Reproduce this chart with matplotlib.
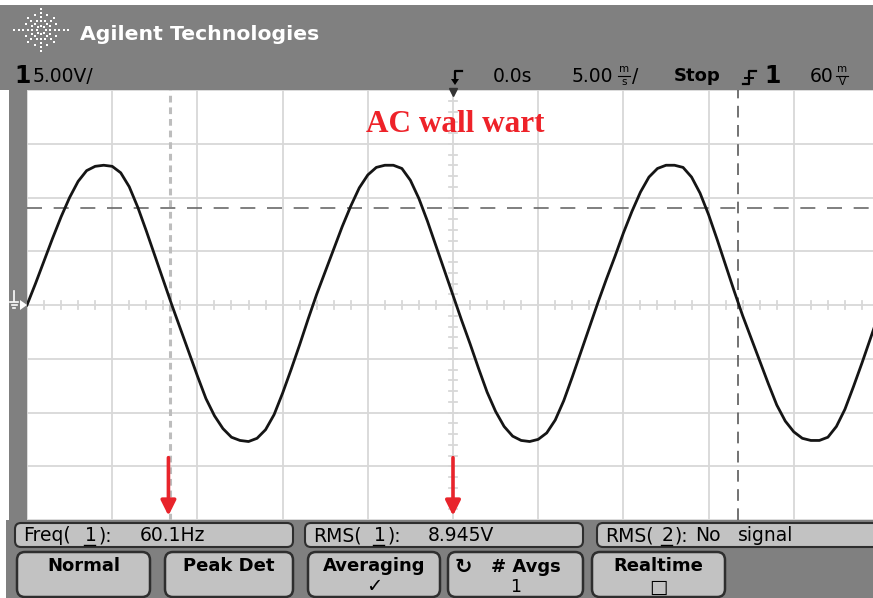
import numpy as np
import matplotlib
matplotlib.use("Agg")
import matplotlib.pyplot as plt
from matplotlib.patches import FancyBboxPatch, Rectangle, Polygon

# ---------------- data ----------------
# channel 1 trace, volts, sampled every 0.5 ms across the 50 ms screen
volts = [0.0, 2.0, 4.1, 6.2, 8.2, 10.0, 11.5, 12.5, 12.9, 13.0,
         12.9, 12.3, 11.0, 9.1, 6.9, 4.6, 2.3, 0.0, -2.2, -4.4,
         -6.6, -8.7, -10.3, -11.5, -12.3, -12.6, -12.7, -12.4, -11.6, -10.2,
         -8.2, -6.0, -3.7, -1.3, 1.0, 3.1, 5.2, 7.3, 9.2, 10.9,
         12.1, 12.8, 13.0, 13.0, 12.7, 11.6, 9.9, 7.8, 5.5, 3.2,
         0.9, -1.4, -3.6, -5.9, -8.1, -9.9, -11.3, -12.2, -12.6, -12.7,
         -12.5, -11.9, -10.7, -8.9, -6.7, -4.4, -2.1, 0.2, 2.4, 4.5,
         6.7, 8.7, 10.5, 11.9, 12.7, 13.0, 13.0, 12.8, 11.9, 10.4,
         8.4, 6.1, 3.7, 1.3, -1.0, -3.1, -5.2, -7.3, -9.3, -10.8,
         -11.8, -12.4, -12.6, -12.6, -12.3, -11.3, -9.7, -7.6, -5.4, -3.1,
         -0.8]
t_start, t_end = -25.0, 25.0          # ms, 5 ms/div, 10 div
v_min, v_max = -20.0, 20.0            # V, 5 V/div, 8 div
time_ms = np.linspace(t_start, t_end, len(volts))

x_grid = [-25, -20, -15, -10, -5, 0, 5, 10, 15, 20, 25]
y_grid = [-20, -15, -10, -5, 0, 5, 10, 15, 20]

cursor_v = 9.0        # horizontal dashed cursor (V)
cursor_t = 16.7       # vertical dashed cursor (ms)
marker_t = -16.6      # grey dotted marker (ms)
arrow_ts = [-16.7, 0.0]

title = "AC wall wart"
header = "Agilent Technologies"
meas_labels = [("Freq(", "1", "):", "60.1Hz"),
               ("RMS(", "1", "):", "8.945V"),
               ("RMS(", "2", "):", "No", "signal")]
softkeys = ["Normal", "Peak Det", "Averaging", "# Avgs", "Realtime"]
softkey_sub = ["", "", "\u2713", "1", "\u25a1"]

# ---------------- figure ----------------
W, H = 873, 598
fig = plt.figure(figsize=(W / 100, H / 100), dpi=100)
fig.patch.set_facecolor("white")

GRAY = "#808080"
BOX = "#c2c2c2"
EDGE = "#2e2e2e"

bg = fig.add_axes([0, 0, 1, 1], zorder=0)
bg.set_xlim(0, W)
bg.set_ylim(H, 0)
bg.axis("off")

# header / frames
bg.add_patch(Rectangle((0, 5), W, 85, color=GRAY, lw=0))
bg.add_patch(Rectangle((9, 90), 18, 430, color=GRAY, lw=0))
bg.add_patch(Rectangle((6, 520), W, 78, color=GRAY, lw=0))

# logo starburst
cx, cy = 41, 30
for ang in range(0, 360, 45):
    a = np.deg2rad(ang)
    rmax = 27 if ang % 180 == 0 else (23 if ang % 90 == 0 else 20)
    rs = np.arange(4.5, rmax + 0.1, 4.5)
    bg.scatter(cx + rs * np.cos(a), cy - rs * np.sin(a) * 0.95, s=2.6,
               marker="s", color="white", lw=0)
for ang in range(22, 360, 45):
    a = np.deg2rad(ang + 0.5)
    rs = np.array([10.0, 16.0])
    bg.scatter(cx + rs * np.cos(a), cy - rs * np.sin(a), s=1.8,
               marker="s", color="white", lw=0)

bg.text(80, 34, header, color="white", fontsize=14.7, fontweight="bold",
        family="DejaVu Sans", va="center", ha="left")

# channel scale
bg.text(14, 76, "1", color="black", fontsize=17, fontweight="bold",
        va="center", ha="left")
bg.text(33, 76, "5.00V/", color="black", fontsize=13.5, va="center", ha="left")

# trigger position icon
bg.plot([462, 455, 455], [71, 71, 80], color="black", lw=1.6)
bg.add_patch(Polygon([[451, 79], [459, 79], [455, 85]], color="black", lw=0))

bg.text(493, 76, "0.0s", color="black", fontsize=13.5, va="center", ha="left")
bg.text(572, 76, "5.00", color="black", fontsize=13.5, va="center", ha="left")
bg.text(624, 74, "m", color="black", fontsize=7.5, va="bottom", ha="center")
bg.text(624, 77, "s", color="black", fontsize=7.5, va="top", ha="center")
bg.plot([618, 630], [75.5, 75.5], color="black", lw=0.8)
bg.text(632, 76, "/", color="black", fontsize=13.5, va="center", ha="left")
bg.text(674, 76, "Stop", color="black", fontsize=13, fontweight="bold",
        va="center", ha="left")
# edge trigger icon
bg.plot([743, 749, 749, 756], [84, 84, 71, 71], color="black", lw=1.6)
bg.plot([745, 753], [78, 78], color="black", lw=1.4)
bg.text(764, 76, "1", color="black", fontsize=17, fontweight="bold",
        va="center", ha="left")
bg.text(810, 76, "60", color="black", fontsize=13.5, va="center", ha="left")
bg.text(842, 74, "m", color="black", fontsize=7.5, va="bottom", ha="center")
bg.text(842, 77, "V", color="black", fontsize=7.5, va="top", ha="center")
bg.plot([836, 848], [75.5, 75.5], color="black", lw=0.8)

# ground marker on the left bar
bg.plot([14, 14], [291, 301], color="white", lw=1.2)
for w, yy in [(8, 302), (5, 305), (2, 308)]:
    bg.plot([14 - w / 2, 14 + w / 2], [yy, yy], color="white", lw=1.2)
bg.add_patch(Polygon([[20, 300], [27, 305], [20, 310]], color="white", lw=0))

# measurement boxes
meas_boxes = [(15, 293), (305, 583), (597, 890)]
meas_x = [(23, 85, 99, 140), (313, 374, 388, 428), (605, 662, 675, 695, 738)]
for (x0, x1), lab, xs in zip(meas_boxes, meas_labels, meas_x):
    bg.add_patch(FancyBboxPatch((x0, 523), x1 - x0, 24,
                                boxstyle="round,pad=0,rounding_size=6",
                                fc=BOX, ec=EDGE, lw=1.5))
    for piece, xp in zip(lab, xs):
        bg.text(xp, 535.5, piece, color="black", fontsize=13.5, va="center",
                ha="left", family="DejaVu Sans")
    bg.plot([xs[1] - 1, xs[1] + 10], [545, 545], color="black", lw=1.0)

# softkeys
key_boxes = [(17, 150), (165, 293), (308, 440), (448, 583), (592, 725)]
for (x0, x1), lab, sub in zip(key_boxes, softkeys, softkey_sub):
    bg.add_patch(FancyBboxPatch((x0, 552), x1 - x0, 45,
                                boxstyle="round,pad=0,rounding_size=8",
                                fc=BOX, ec=EDGE, lw=1.8))
    xc = (x0 + x1) / 2
    if lab == "# Avgs":
        bg.text(xc + 10, 567, lab, color="black", fontsize=13,
                fontweight="bold", va="center", ha="center")
        bg.text(463, 567, "\u21bb", color="black", fontsize=15,
                fontweight="bold", va="center", ha="center")
    else:
        bg.text(xc, 566, lab, color="black", fontsize=13, fontweight="bold",
                va="center", ha="center")
    if sub:
        bg.text(xc, 587, sub, color="black",
                fontsize=14 if sub != "1" else 12.5, va="center", ha="center")

# ---------------- scope screen ----------------
sx0, sx1, sy0, sy1 = 27, 879, 90, 520
ax = fig.add_axes([sx0 / W, (H - sy1) / H, (sx1 - sx0) / W, (sy1 - sy0) / H],
                  zorder=1)
ax.set_xlim(t_start, t_end)
ax.set_ylim(v_min, v_max)
ax.set_facecolor("white")
for s in ax.spines.values():
    s.set_visible(False)
ax.set_xticks([])
ax.set_yticks([])

GRID = "#d8d8d8"
for xv in x_grid:
    ax.axvline(xv, color=GRID, lw=1.3, zorder=1)
for yv in y_grid:
    ax.axhline(yv, color=GRID, lw=1.3, zorder=1)
# minor ticks on center lines
for tv in np.arange(t_start, t_end + 0.01, 1.0):
    ax.plot([tv, tv], [-0.4, 0.4], color=GRID, lw=1.3, zorder=1)
for vv in np.arange(v_min, v_max + 0.01, 1.0):
    ax.plot([-0.25, 0.25], [vv, vv], color=GRID, lw=1.3, zorder=1)

# cursors / markers
ax.axvline(marker_t, color="#bdbdbd", lw=2.2, ls=(0, (2.2, 1.6)), zorder=2)
ax.axhline(cursor_v, color="#6a6a6a", lw=1.2, ls=(0, (9, 7)), zorder=2)
ax.axvline(cursor_t, color="#5a5a5a", lw=1.2, ls=(0, (7, 4.5)), zorder=2)

# trace
ax.plot(time_ms, volts, color="#151515", lw=2.0, zorder=3,
        solid_joinstyle="round")

# trigger point marker at the top of the screen
ax.plot([0], [v_max - 0.2], marker="v", ms=6, color="#333333", zorder=4,
        clip_on=False)

# annotations
ax.text(0.15, 16.75, title, color="#ee2229", fontsize=22.5, fontweight="bold",
        family="Liberation Serif", ha="center", va="center", zorder=5)
for ta in arrow_ts:
    ax.annotate("", xy=(ta, -19.6), xytext=(ta, -14.2),
                arrowprops=dict(arrowstyle="-|>,head_length=0.9,head_width=0.45",
                                color="#e8242b", lw=2.6, shrinkA=0, shrinkB=0),
                zorder=6)

fig.savefig("out.png", dpi=100, facecolor="white")
